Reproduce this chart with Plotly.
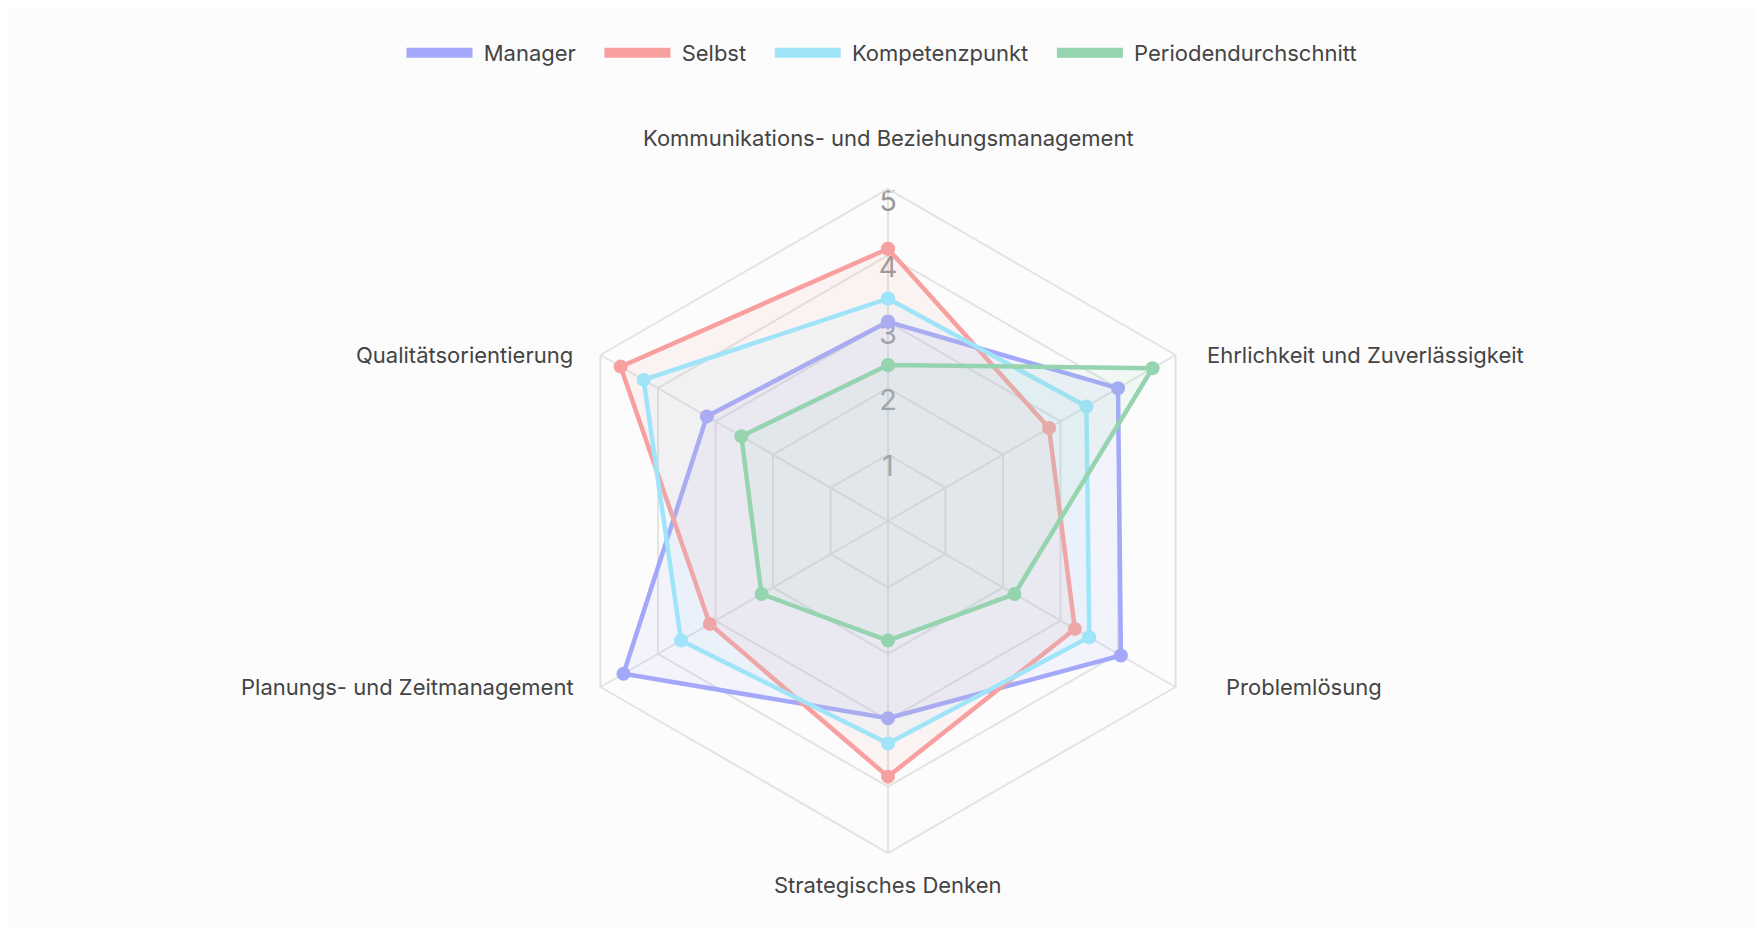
import math
import plotly.graph_objects as go

# Kategorien (im Uhrzeigersinn ab oben)
kategorien = [
    "Kommunikations- und Beziehungsmanagement",
    "Ehrlichkeit und Zuverlässigkeit",
    "Problemlösung",
    "Strategisches Denken",
    "Planungs- und Zeitmanagement",
    "Qualitätsorientierung",
]

manager = [3.0, 4.0, 4.05, 2.97, 4.6, 3.15]
selbst = [4.1, 2.8, 3.25, 3.85, 3.1, 4.65]
kompetenzpunkt = [3.35, 3.45, 3.5, 3.35, 3.6, 4.25]
periodendurchschnitt = [2.35, 4.6, 2.2, 1.8, 2.2, 2.55]

skala = [1, 2, 3, 4, 5]
skala_text = ["1", "2", "3", "4", "5"]

serien = [
    ("Manager", manager, "#a3a8fa", "rgba(163,168,250,0.10)"),
    ("Selbst", selbst, "#f8a0a0", "rgba(248,160,160,0.10)"),
    ("Kompetenzpunkt", kompetenzpunkt, "#a0e4fa", "rgba(160,228,250,0.10)"),
    ("Periodendurchschnitt", periodendurchschnitt, "#95d4ae", "rgba(149,212,174,0.10)"),
]

# Seite hat 8px Rand -> Figur etwas kleiner
W, H = 1747, 919
cx, cy, R = 880, 513, 332   # Mitte und Radius des Netzes in Pixel
schrift = "Inter"
nb = "\u00a0"
# Abstand der Beschriftung vom aeusseren Ring (px)
label_abstand = [36, 29, 48, 17, 24, 25]

fig = go.Figure()

# Skalenbeschriftung unter den Linien
fig.add_trace(go.Scatterpolar(
    r=skala, theta=[kategorien[0]] * len(skala), mode="text",
    text=skala_text, textposition="bottom center",
    textfont=dict(size=29, color="rgba(120,120,120,0.75)", family=schrift),
    showlegend=False, hoverinfo="skip"))

for name, werte, farbe, fuellung in serien:
    fig.add_trace(go.Scatterpolar(
        r=werte + werte[:1], theta=kategorien + kategorien[:1],
        mode="lines+markers", fill="toself", fillcolor=fuellung,
        line=dict(color=farbe, width=4.5),
        marker=dict(color=farbe, size=14),
        name=name, showlegend=False))
    # nur fuer die Legende
    fig.add_trace(go.Scatterpolar(
        r=[None], theta=[None], mode="lines", name=nb + name + nb * 3,
        line=dict(color=farbe, width=16)))

# Kategorienbeschriftung aussen
annos = []
for i, kat in enumerate(kategorien):
    a = math.radians(90 - 60 * i)
    vx = cx + R * math.cos(a)
    vy = cy - R * math.sin(a)
    d = label_abstand[i]
    if abs(math.cos(a)) < 0.1:
        xa = "center"
        if math.sin(a) > 0:
            ya, vy = "bottom", vy - d
        else:
            ya, vy = "top", vy + d
    else:
        ya = "middle"
        if math.cos(a) > 0:
            xa, vx = "left", vx + d
        else:
            xa, vx = "right", vx - d
    annos.append(dict(x=vx / W, y=1 - vy / H, xref="paper", yref="paper",
                      text=kat, showarrow=False, xanchor=xa, yanchor=ya,
                      font=dict(size=22, color="#444444", family=schrift)))

fig.update_layout(
    width=W, height=H,
    margin=dict(l=0, r=0, t=0, b=0),
    paper_bgcolor="#fcfcfc",
    font=dict(family=schrift, color="#444444"),
    annotations=annos,
    legend=dict(orientation="h", x=883 / W, xanchor="center", y=1 - 45 / H, yanchor="middle",
                font=dict(size=22, color="#444444"), itemwidth=66,
                bgcolor="rgba(0,0,0,0)"),
    polar=dict(
        domain=dict(x=[(cx - R) / W, (cx + R) / W], y=[1 - (cy + R) / H, 1 - (cy - R) / H]),
        bgcolor="rgba(0,0,0,0)",
        gridshape="linear",
        radialaxis=dict(range=[0, 5], dtick=1, showticklabels=False, ticks="",
                        showline=False, gridcolor="#e3e3e3", gridwidth=2),
        angularaxis=dict(direction="clockwise", rotation=90, showticklabels=False,
                         ticks="", gridcolor="#e3e3e3", gridwidth=2,
                         showline=True, linecolor="#e3e3e3", linewidth=2),
    ),
)

fig.write_html("out.html")
